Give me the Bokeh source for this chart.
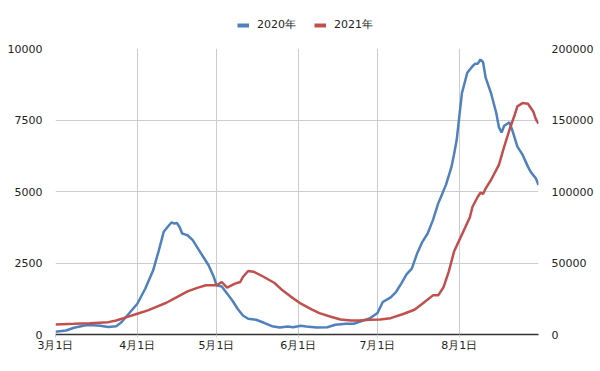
import pandas as pd
from bokeh.plotting import figure
from bokeh.layouts import column
from bokeh.models import (Range1d, LinearAxis, FixedTicker, Legend, LegendItem,
                          BasicTickFormatter)
from bokeh.embed import file_html
from bokeh.resources import INLINE

# ---- data ----
dates_2020 = ["03-01","03-05","03-08","03-12","03-14","03-18","03-21","03-24","03-26","03-29",
              "04-01","04-04","04-07","04-09","04-11","04-13","04-14","04-15","04-16","04-17",
              "04-18","04-19","04-20","04-22","04-24","04-26","04-28","04-30","05-01","05-03",
              "05-05","05-07","05-09","05-11","05-13","05-16","05-19","05-22","05-25","05-28",
              "05-30","06-02","06-04","06-08","06-12","06-15","06-19","06-22","06-25","06-28",
              "07-01","07-03","07-06","07-08","07-10","07-12","07-14","07-16","07-18","07-20",
              "07-22","07-24","07-25","07-27","07-29","07-30","07-31","08-01","08-02","08-04",
              "08-06","08-07","08-08","08-09","08-10","08-11","08-13","08-14","08-15","08-16",
              "08-17","08-18","08-20","08-21","08-23","08-25","08-27","08-28","08-30","08-31"]
values_2020 = [100,140,235,315,330,305,260,290,430,750,
               1075,1600,2245,2890,3590,3820,3920,3880,3900,3760,
               3530,3500,3470,3300,3000,2710,2420,2010,1720,1680,
               1430,1190,900,665,550,515,410,290,245,280,
               255,305,280,245,255,340,375,375,470,560,
               750,1135,1300,1485,1780,2105,2305,2830,3240,3530,
               4000,4585,4800,5250,5850,6300,6800,7625,8445,9150,
               9380,9470,9470,9615,9520,8970,8445,8095,7745,7250,
               7065,7300,7415,7160,6570,6280,5870,5690,5460,5230]

dates_2021 = ["03-01","03-08","03-14","03-21","03-24","03-28","04-01","04-05","04-08","04-12",
              "04-16","04-20","04-24","04-27","05-01","05-03","05-05","05-08","05-10","05-11",
              "05-13","05-15","05-19","05-23","05-26","05-29","06-02","06-06","06-09","06-13",
              "06-17","06-21","06-24","06-28","07-02","07-06","07-11","07-15","07-18","07-22",
              "07-24","07-26","07-28","07-30","08-01","08-03","08-05","08-06","08-08","08-09",
              "08-10","08-11","08-13","08-15","08-16","08-18","08-20","08-22","08-23","08-25",
              "08-27","08-29","08-30","08-31"]
values_2021 = [7020,7500,7950,8650,9820,12160,14500,16840,19180,22220,
               26200,30170,32750,34390,34390,36730,32750,35560,36730,40210,
               44430,43960,40210,36030,30880,26670,21540,17540,14950,12630,
               10530,9820,9820,10300,10530,11440,14500,17300,21500,27370,
               27370,33000,44000,58000,66000,74000,82000,89330,96350,99160,
               98250,102240,108070,115090,118600,131440,143160,153680,159500,161890,
               161400,156000,150660,147370]

series_names = ["2020年", "2021年"]
tick_dates = ["03-01", "04-01", "05-01", "06-01", "07-01", "08-01"]
tick_labels = ["3月1日", "4月1日", "5月1日", "6月1日", "7月1日", "8月1日"]
left_ticks = [0, 2500, 5000, 7500, 10000]
right_ticks = [0, 50000, 100000, 150000, 200000]

BLUE = "#4F81BD"
RED = "#C0504D"
FONT = "DejaVu Sans"

start = pd.Timestamp("2021-03-01")
def day_index(md_list):
    return [int((pd.Timestamp("2021-" + s) - start).days) for s in md_list]

x20 = day_index(dates_2020)
x21 = day_index(dates_2021)
tx = day_index(tick_dates)
end_day = day_index(["08-31"])[0]

# ---- main chart ----
p = figure(width=600, height=331, output_backend="svg", toolbar_location=None,
           x_range=Range1d(0, end_day), y_range=Range1d(0, 10000),
           min_border_left=55, min_border_right=62, min_border_top=8, min_border_bottom=37)
p.extra_y_ranges = {"r": Range1d(0, 200000)}
p.outline_line_color = None
p.background_fill_color = "white"
p.border_fill_color = "white"

r20 = p.line(x20, values_2020, color=BLUE, line_width=2.5)
r21 = p.line(x21, values_2021, color=RED, line_width=2.5, y_range_name="r")

p.xaxis.ticker = FixedTicker(ticks=tx)
p.xaxis.major_label_overrides = {t: l for t, l in zip(tx, tick_labels)}
p.xaxis.axis_line_color = "#333333"
p.xaxis.axis_line_width = 1.5
p.xaxis.major_tick_line_color = "#cccccc"
p.xaxis.major_tick_in = 0
p.xaxis.major_tick_out = 3
p.xaxis.minor_tick_line_color = None
p.xaxis.major_label_standoff = 1

p.yaxis.ticker = FixedTicker(ticks=left_ticks)
p.yaxis.formatter = BasicTickFormatter(use_scientific=False)
p.yaxis.axis_line_color = None
p.yaxis.major_tick_line_color = None
p.yaxis.minor_tick_line_color = None
p.yaxis.major_label_standoff = 7

ra = LinearAxis(y_range_name="r", ticker=FixedTicker(ticks=right_ticks),
                formatter=BasicTickFormatter(use_scientific=False))
ra.axis_line_color = None
ra.major_tick_line_color = None
ra.minor_tick_line_color = None
ra.major_label_standoff = 7
p.add_layout(ra, "right")

for ax in [p.xaxis[0], p.yaxis[0], ra]:
    ax.major_label_text_font = FONT
    ax.major_label_text_font_size = "11px"
    ax.major_label_text_color = "#222222"

p.xgrid.ticker = FixedTicker(ticks=tx)
p.ygrid.ticker = FixedTicker(ticks=left_ticks)
p.xgrid.grid_line_color = "#cccccc"
p.ygrid.grid_line_color = "#cccccc"

# ---- legend strip above the chart ----
lg = figure(width=600, height=40, output_backend="svg", toolbar_location=None,
            x_range=Range1d(0, 1), y_range=Range1d(0, 1),
            min_border_left=0, min_border_right=0, min_border_top=0, min_border_bottom=0)
lg.axis.visible = False
lg.grid.visible = False
lg.outline_line_color = None
# legend-only renderers (their points lie outside the strip's ranges, so only the legend shows them)
d20 = lg.line([5, 6], [5, 5], color=BLUE, line_width=4)
d21 = lg.line([5, 6], [5, 5], color=RED, line_width=4)
legend = Legend(items=[LegendItem(label=series_names[0], renderers=[d20]),
                       LegendItem(label=series_names[1], renderers=[d21])],
                orientation="horizontal", location=(182, 8),
                glyph_width=12, glyph_height=14, label_height=14,
                label_text_font=FONT, label_text_font_size="11px",
                label_text_color="#222222", spacing=18, padding=0, margin=0,
                border_line_color=None, background_fill_alpha=0, label_standoff=8)
lg.add_layout(legend, "center")

layout = column(lg, p, spacing=0)
open("out.html", "w").write(file_html(layout, INLINE))
